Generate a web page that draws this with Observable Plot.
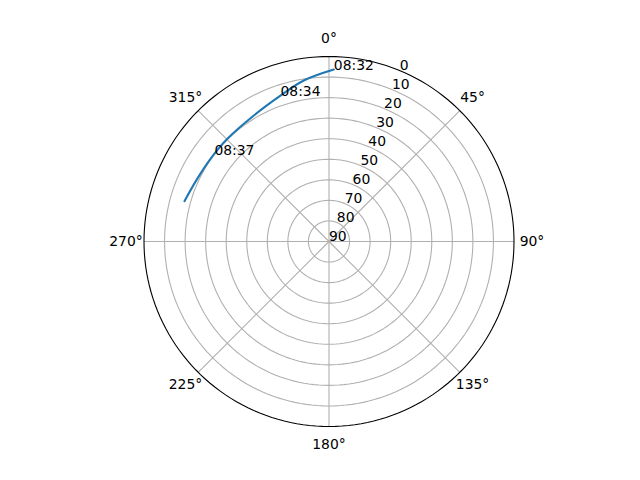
<!DOCTYPE html>
<html><head><meta charset="utf-8">
<script src="https://cdn.jsdelivr.net/npm/d3@7"></script>
<script src="https://cdn.jsdelivr.net/npm/@observablehq/plot@0.6"></script>
<style>body{margin:0;background:#fff} svg{font-family:"DejaVu Sans",sans-serif}</style>
</head><body><div id="chart"></div><script>
// satellite track (azimuth clockwise from north, elevation in degrees)
const azimuth   = [1.6, 351.1, 341.6, 329.2, 315.3, 304.9, 295.4, 285.6];
const elevation = [6.3, 10.7, 15.2, 18.6, 19.7, 19.7, 19.0, 17.0];
// time annotations
const timeLabels = ["08:32", "08:34", "08:37"];
const timeAz = [1.6, 341.6, 307.2];
const timeEl = [6.3, 15.2, 20.0];
// ticks
const ringTicks = [0, 10, 20, 30, 40, 50, 60, 70, 80, 90];
const angleTicks = [0, 45, 90, 135, 180, 225, 270, 315];
const rLabelAngle = 22.5;

const R = 185; // px radius of the plot area
const rad = d => d * Math.PI / 180;
const px = (az, el) => (90 - el) * Math.sin(rad(az));
const py = (az, el) => (90 - el) * Math.cos(rad(az));

const track = azimuth.map((a, i) => ({az: a, el: elevation[i]}));
const times = timeLabels.map((t, i) => ({t, az: timeAz[i], el: timeEl[i]}));

const ringPts = [];
for (const e of ringTicks.slice(0, -1)) {
  for (let a = 0; a <= 360; a += 2) ringPts.push({ring: e, az: a, el: e});
}
const spokes = angleTicks.map(a => ({az: a}));
const labelEl = -18 * 90 / R; // label offset beyond outer circle
const angleLabels = angleTicks.map(a => ({az: a, label: a + "°"}));
const rLabels = ringTicks.map(e => ({el: e, label: String(e)}));

const chart = Plot.plot({
  width: 640, height: 480,
  marginLeft: 328.5 - R, marginRight: 640 - 328.5 - R,
  marginTop: 241 - R, marginBottom: 480 - 241 - R,
  x: {domain: [-90, 90], axis: null},
  y: {domain: [-90, 90], axis: null},
  marks: [
    Plot.line(ringPts.filter(d => d.ring > 0), {
      x: d => px(d.az, d.el), y: d => py(d.az, d.el), z: "ring",
      stroke: "#b0b0b0", strokeWidth: 1.1
    }),
    Plot.link(spokes, {
      x1: d => px(d.az, 90), y1: d => py(d.az, 90),
      x2: d => px(d.az, 0), y2: d => py(d.az, 0),
      stroke: "#b0b0b0", strokeWidth: 1.1
    }),
    Plot.line(ringPts.filter(d => d.ring === 0), {
      x: d => px(d.az, d.el), y: d => py(d.az, d.el),
      stroke: "black", strokeWidth: 1.1
    }),
    Plot.line(track, {
      x: d => px(d.az, d.el), y: d => py(d.az, d.el),
      stroke: "#1f77b4", strokeWidth: 2.08, curve: "catmull-rom"
    }),
    Plot.text(times, {
      x: d => px(d.az, d.el), y: d => py(d.az, d.el), text: "t",
      textAnchor: "start", lineAnchor: "bottom", fontSize: 13.9, fill: "black", dy: 0
    }),
    Plot.text(rLabels, {
      x: d => px(rLabelAngle, d.el), y: d => py(rLabelAngle, d.el), text: "label",
      textAnchor: "start", lineAnchor: "bottom", fontSize: 13.9, fill: "black", dy: -1
    }),
    Plot.text(angleLabels, {
      x: d => px(d.az, labelEl), y: d => py(d.az, labelEl), text: "label",
      textAnchor: "middle", lineAnchor: "middle", fontSize: 13.9, fill: "black"
    })
  ]
});
document.getElementById("chart").appendChild(chart);
</script></body></html>
